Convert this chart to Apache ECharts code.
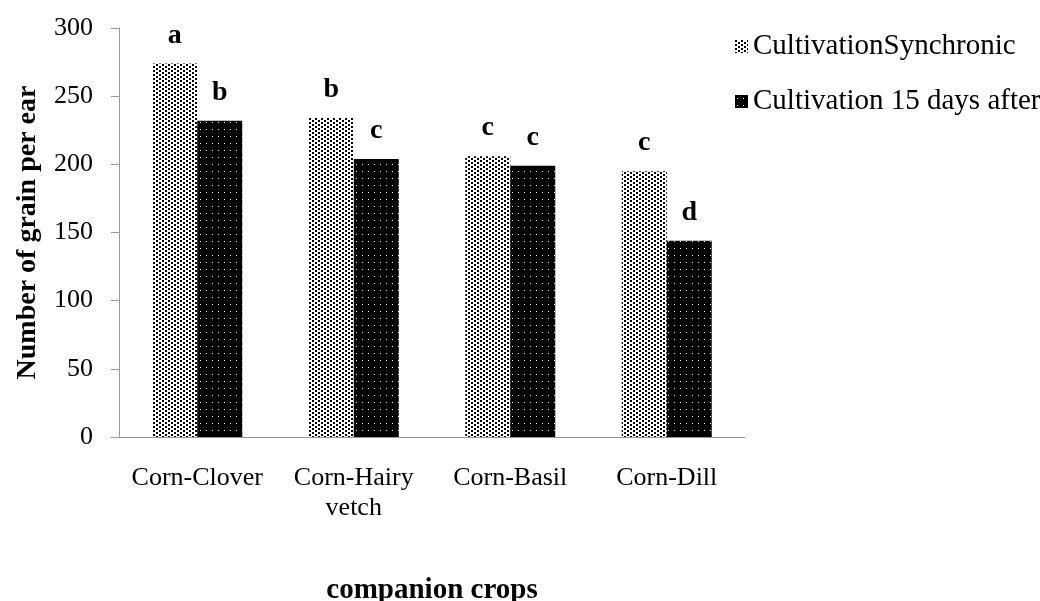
<!DOCTYPE html>
<html>
<head>
<meta charset="utf-8">
<script src="https://cdn.jsdelivr.net/npm/echarts@6/dist/echarts.min.js"></script>
<style>
  html, body { margin: 0; padding: 0; background: #fff; }
  #chart { width: 1040px; height: 601px; }
</style>
</head>
<body>
<div id="chart"></div>
<script>
// data
var crops = ['Corn-Clover', 'Corn-Hairy\nvetch', 'Corn-Basil', 'Corn-Dill'];
var synchronic = [274, 234, 206, 195];
var after15 = [232, 204, 199, 144];
var lettersSync = ['a', 'b', 'c', 'c'];
var lettersAfter = ['b', 'c', 'c', 'd'];
var yTicks = [0, 50, 100, 150, 200, 250, 300];

// fill patterns (dotted like the original)
function dotsLight() {
    var c = document.createElement('canvas');
    c.width = 6; c.height = 4;
    var g = c.getContext('2d');
    g.fillStyle = '#fff';
    g.fillRect(0, 0, 6, 4);
    g.fillStyle = '#000';
    g.fillRect(0, 0, 2, 2);
    g.fillRect(3, 2, 2, 2);
    return c;
}
function dotsDark() {
    var c = document.createElement('canvas');
    c.width = 6; c.height = 7;
    var g = c.getContext('2d');
    g.fillStyle = '#000';
    g.fillRect(0, 0, 6, 7);
    g.fillStyle = '#fff';
    g.fillRect(2, 3, 1, 1);
    return c;
}

var font = '"Liberation Serif", "Times New Roman", serif';
var chart = echarts.init(document.getElementById('chart'));

var option = {
    animation: false,
    textStyle: { fontFamily: font, color: '#000' },
    grid: { left: 119, right: 295, top: 28, bottom: 164, outerBoundsMode: 'none', containLabel: false },
    legend: {
        orient: 'vertical',
        left: 730,
        top: 27,
        itemGap: 26,
        itemWidth: 13,
        itemHeight: 13,
        icon: 'rect',
        textStyle: { fontFamily: font, fontSize: 29, color: '#000' },
        data: ['CultivationSynchronic', 'Cultivation 15 days after']
    },
    xAxis: {
        type: 'category',
        data: crops,
        name: 'companion crops',
        nameLocation: 'middle',
        nameGap: 139,
        nameTextStyle: { fontFamily: font, fontSize: 29, fontWeight: 'bold', color: '#000' },
        axisLine: { lineStyle: { color: '#999' } },
        axisTick: { length: 8, lineStyle: { color: '#999' } },
        axisLabel: { interval: 0, margin: 26, fontFamily: font, fontSize: 26, color: '#000', lineHeight: 30 }
    },
    yAxis: {
        type: 'value',
        min: yTicks[0],
        max: yTicks[yTicks.length - 1],
        interval: 50,
        name: 'Number of grain per ear',
        nameLocation: 'middle',
        nameGap: 77,
        nameTextStyle: { fontFamily: font, fontSize: 28, fontWeight: 'bold', color: '#000' },
        axisLine: { show: true, lineStyle: { color: '#999' } },
        axisTick: { show: true, length: 8, lineStyle: { color: '#999' } },
        axisLabel: { margin: 26, fontFamily: font, fontSize: 26, color: '#000' },
        splitLine: { show: false }
    },
    series: [
        {
            name: 'CultivationSynchronic',
            type: 'bar',
            barWidth: 45,
            barGap: '0%',
            data: synchronic,
            itemStyle: { color: { image: dotsLight(), repeat: 'repeat' } },
            label: {
                show: true,
                position: 'top',
                distance: 14,
                fontFamily: font,
                fontSize: 28,
                fontWeight: 'bold',
                color: '#000',
                formatter: function (p) { return lettersSync[p.dataIndex]; }
            }
        },
        {
            name: 'Cultivation 15 days after',
            type: 'bar',
            barWidth: 45,
            data: after15,
            itemStyle: { color: { image: dotsDark(), repeat: 'repeat' } },
            label: {
                show: true,
                position: 'top',
                distance: 14,
                fontFamily: font,
                fontSize: 28,
                fontWeight: 'bold',
                color: '#000',
                formatter: function (p) { return lettersAfter[p.dataIndex]; }
            }
        }
    ]
};

chart.setOption(option);
</script>
</body>
</html>
